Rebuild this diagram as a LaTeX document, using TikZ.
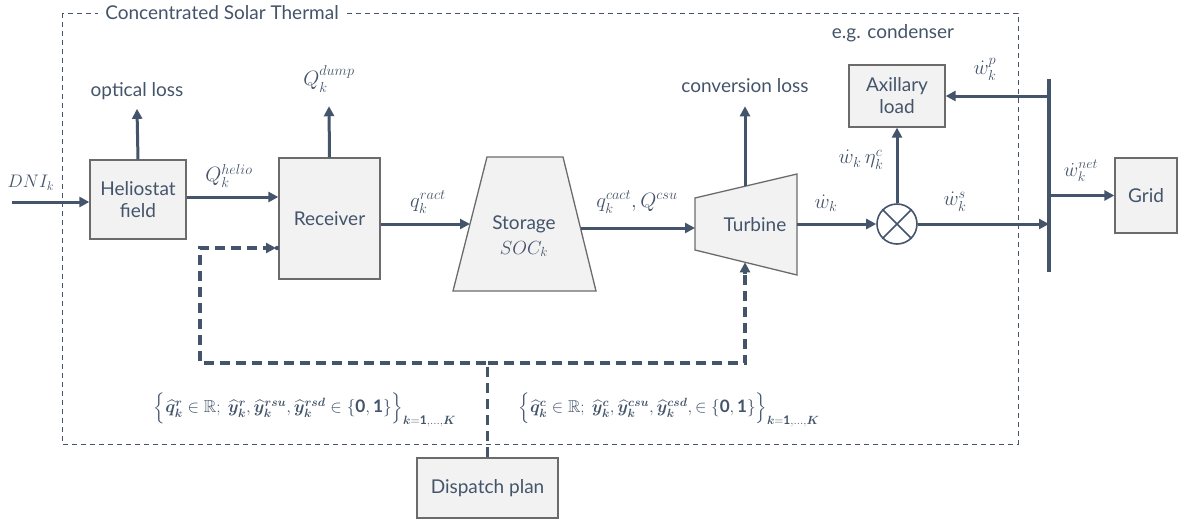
\documentclass[tikz,border=0pt]{standalone}
\usepackage{amsmath,amssymb,bm}
\usepackage{fontspec}
\setmainfont{Lato}
\usetikzlibrary{arrows.meta,calc}
\definecolor{slate}{HTML}{44546A}
\definecolor{boxfill}{HTML}{F2F2F2}
\definecolor{boxline}{HTML}{6B6B6B}
\newcommand\mlab[2][1.2]{\scalebox{#1}{$#2$}}
\begin{document}
\begin{tikzpicture}[x=1pt,y=-1pt,
 box/.style={draw=boxline,line width=1.3pt,fill=boxfill,text=slate,align=center,font=\fontsize{19}{22}\selectfont,inner sep=0pt},
 lbl/.style={text=slate,inner sep=0pt,font=\fontsize{19}{22}\selectfont},
 mlbl/.style={text=slate,inner sep=0pt,font=\fontsize{17}{20}\selectfont},
 flow/.style={draw=slate,line width=3pt,-{Triangle[length=10pt,width=10pt]}},
 ctl/.style={draw=slate,line width=3.2pt,dash pattern=on 10pt off 6pt},
]
\useasboundingbox (0,0) rectangle (1180,522);
% outer dashed frame
\draw[slate,line width=0.8pt,dash pattern=on 5pt off 4pt] (62,13) rectangle (1018,444);
\node[lbl,fill=white,inner xsep=7pt,inner ysep=3pt] (title) at (222,13) {Concentrated Solar Thermal};

% boxes
\node[box,minimum width=96pt,minimum height=79pt] (helio) at (138,199.5) {Heliostat\\field};
\node[box,minimum width=101pt,minimum height=121pt] (rcv) at (329.5,218.5) {Receiver};
\node[box,minimum width=96pt,minimum height=62pt] (ax) at (897,96) {Axillary\\load};
\node[box,minimum width=62pt,minimum height=75pt] (grid) at (1146,195.5) {Grid};
\node[box,minimum width=141pt,minimum height=60pt] (dp) at (487.5,488) {Dispatch plan};

% storage
\draw[draw=boxline,line width=1.3pt,fill=boxfill] (487,157) -- (563,157) -- (596,291) -- (453,291) -- cycle;
\node[lbl] (storage) at (524,224) {Storage};
\node[mlbl] (soc) at (524,249) {\mlab[1.1]{SOC_k}};
\coordinate (stin) at (470,224);
\coordinate (stout) at (580.5,228);

% turbine
\draw[draw=boxline,line width=1.3pt,fill=boxfill] (695,198) -- (797,174) -- (797,275) -- (695,250) -- cycle;
\node[lbl] (turbine) at (755,225) {Turbine};
\coordinate (tbin) at (695,228);
\coordinate (tbout) at (797,224);
\coordinate (tbtop) at (745,186.2);
\coordinate (tbbot) at (745,262.3);

% mixer
\node[draw=slate,line width=1.6pt,circle,minimum size=40pt,inner sep=0pt,fill=white] (mix) at (897,224) {};
\draw[slate,line width=1.6pt] (mix.north east) -- (mix.south west) (mix.north west) -- (mix.south east);

% bus
\coordinate (bustop) at (1049,79);
\coordinate (busbot) at (1049,272);
\draw[slate,line width=4pt] (bustop) -- (busbot);

% labels
\node[mlbl] (dni) at (31,183) {\mlab[1.05]{DNI_k}};
\coordinate (dnis) at (12,202);
\node[lbl] (ol) at (137,91) {optical loss};
\node[mlbl] (dump) at (329,79) {\mlab{Q_k^{dump}}};
\node[mlbl] (qh) at (229,176) {\mlab{Q_k^{helio}}};
\node[mlbl] (qr) at (428,202) {\mlab{q_k^{ract}}};
\node[mlbl] (qc) at (637,202) {\mlab{q_k^{cact}, Q^{csu}}};
\node[lbl] (cl) at (745,86) {conversion loss};
\node[mlbl] (wk) at (826,203) {\mlab{\dot w_k}};
\node[mlbl] (wke) at (861,160) {\mlab{\dot w_k\,\eta_k^c}};
\node[mlbl] (ws) at (955,202) {\mlab{\dot w_k^s}};
\node[mlbl] (wp) at (985,69) {\mlab{\dot w_k^p}};
\node[mlbl] (wn) at (1081,171) {\mlab[1.15]{\dot w_k^{net}}};
\node[lbl] (cond) at (893,33) {e.g. condenser};

% flows
\draw[flow] (dnis) -- (dnis -| helio.west);
\draw[flow] (helio.north) -- ($(ol.south)+(0,9)$);
\draw[flow] (helio.east |- 0,197) -- (rcv.west |- 0,197);
\draw[flow] (rcv.north) -- ($(dump.south)+(0,14)$);
\draw[flow] (rcv.east |- stin) -- (stin);
\draw[flow] (stout) -- (tbin);
\draw[flow] (tbtop) -- ($(cl.south)+(0,13)$);
\draw[flow] (tbout) -- (mix.west);
\draw[flow] (mix.north) -- (ax.south);
\draw[flow] (mix.east) -- (mix.east -| bustop);
\draw[flow] (ax.east -| bustop) -- (ax.east);
\draw[flow] (grid.west -| bustop) -- (grid.west);

% control (dashed)
\coordinate (fbL) at (200,363);
\coordinate (fbR) at (745,363);
\coordinate (rin) at (279,248);
\draw[ctl] (dp.north) -- (dp.north |- fbL) -- (fbL) -- (fbL |- rin) -- ($(rin)+(-9,0)$);
\draw[slate,line width=3.2pt,-{Triangle[length=10pt,width=10pt]}] ($(rin)+(-10,0)$) -- ($(rin)+(-3,0)$);
\fill[slate] (rin) ++(-2,0) circle (2.2pt);
\draw[ctl] (dp.north |- fbR) -- (fbR) -- ($(tbbot)+(0,12)$);
\draw[slate,line width=3.2pt,-{Triangle[length=10pt,width=10pt]}] ($(tbbot)+(0,12)$) -- (tbbot);

% formulas
\node[lbl,font=\fontsize{17.28}{20}\selectfont] (f1) at (305,410) {\mlab[1.0]{\Big\{\widehat{\bm q}_{\bm k}^{\bm r}\in\mathbb{R};\ \widehat{\bm y}_{\bm k}^{\bm r}, \widehat{\bm y}_{\bm k}^{\bm{rsu}}, \widehat{\bm y}_{\bm k}^{\bm{rsd}}\in\{\mathbf{0},\mathbf{1}\}\Big\}_{\bm{k}=\mathbf{1},\ldots,\bm{K}}}};
\node[lbl,font=\fontsize{17.28}{20}\selectfont] (f2) at (669,410) {\mlab[0.99]{\Big\{\widehat{\bm q}_{\bm k}^{\bm c}\in\mathbb{R};\ \widehat{\bm y}_{\bm k}^{\bm c}, \widehat{\bm y}_{\bm k}^{\bm{csu}}, \widehat{\bm y}_{\bm k}^{\bm{csd}}, \in\{\mathbf{0},\mathbf{1}\}\Big\}_{\bm{k}=\mathbf{1},\ldots,\bm{K}}}};
\end{tikzpicture}
\end{document}
